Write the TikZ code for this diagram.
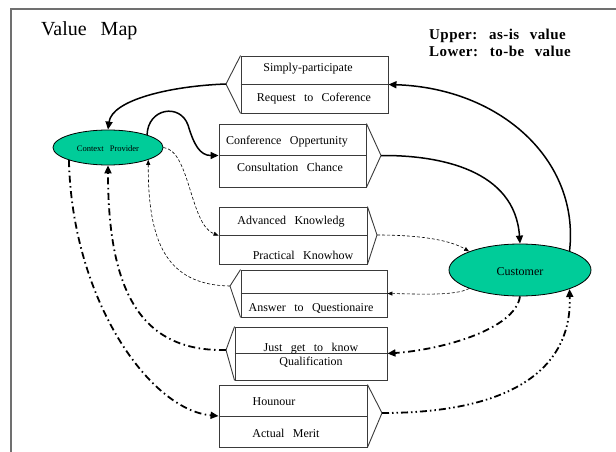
\documentclass[tikz,border=0pt]{standalone}
\usepackage{fontspec}
\setmainfont{Liberation Serif}
\usetikzlibrary{arrows.meta,shapes.geometric}

\definecolor{actorfill}{HTML}{00CC99}
\definecolor{boxline}{HTML}{3A3A3A}
\definecolor{framecol}{HTML}{707070}

\tikzset{
  every node/.style={execute at begin node={\spaceskip=0.7em plus 0.1em\relax}},
  actor/.style={ellipse, draw=black, line width=0.8pt, fill=actorfill, inner sep=0pt},
  valbox/.style={draw=boxline, line width=0.9pt, rectangle, inner sep=0pt},
  boxlabel/.style={font=\fontsize{12}{14}\selectfont, inner sep=0pt, anchor=base},
  notch/.style={draw=boxline, line width=0.9pt},
  arr/.style={-{Triangle[length=8pt,width=7pt]}},
  smallarr/.style={-{Triangle[length=5pt,width=4pt]}},
  flow/.style={line width=1.5pt, arr},
  hint/.style={line width=0.6pt, dash pattern=on 3pt off 2pt, smallarr},
  dashdot/.style={line width=1.8pt, dash pattern=on 7pt off 3.5pt on 1.5pt off 3.5pt, arr},
  dashdotdot/.style={line width=1.8pt, dash pattern=on 7pt off 3pt on 1.5pt off 3pt on 1.5pt off 3pt, arr},
}

\begin{document}
\begin{tikzpicture}[x=1pt, y=-1pt]
\useasboundingbox (0,0) rectangle (616,452);

% frame
\draw[framecol, line width=1.2pt] (11,452) -- (11,9) -- (616,9);

% headings
\node[font=\fontsize{20}{24}\selectfont, anchor=base west, inner sep=0pt] (title) at (41,36) {Value Map};
\node[font=\fontsize{15}{17}\selectfont\bfseries\addfontfeature{LetterSpace=3}, anchor=base west, inner sep=0pt] (legendA) at (429,40) {Upper: as-is value};
\node[font=\fontsize{15}{17}\selectfont\bfseries\addfontfeature{LetterSpace=3}, anchor=base west, inner sep=0pt] (legendB) at (429,57) {Lower: to-be value};

% actors
\node[actor, minimum width=110pt, minimum height=35pt] (cp) at (108,147.5) {};
\node[font=\fontsize{8.5}{10}\selectfont, anchor=base, inner sep=0pt] (cplabel) at (108,151) {Context Provider};
\node[actor, minimum width=142pt, minimum height=52pt] (cu) at (520,270) {};
\node[font=\fontsize{12}{14}\selectfont, anchor=base, inner sep=0pt] (culabel) at (520,275) {Customer};

% value boxes
\node[valbox, minimum width=147pt, minimum height=57pt] (b1) at (314.5,84.5) {};
\node[valbox, minimum width=147pt, minimum height=63pt] (b2) at (292.5,155.5) {};
\node[valbox, minimum width=148pt, minimum height=57pt] (b3) at (293,235.5) {};
\node[valbox, minimum width=146pt, minimum height=47pt] (b4) at (314,293.5) {};
\node[valbox, minimum width=152pt, minimum height=53pt] (b5) at (311,353.5) {};
\node[valbox, minimum width=148pt, minimum height=62pt] (b6) at (293,416) {};

% notch tips
\coordinate (b1tip) at (226,84);
\coordinate (b2tip) at (381,155.5);
\coordinate (b3tip) at (377,235);
\coordinate (b4tip) at (230,286);
\coordinate (b5tip) at (226,350);
\coordinate (b6tip) at (382,413);

% dividers and notches
\foreach \b in {b1,b2,b3,b4,b5,b6}
  \draw[notch] (\b.west) -- (\b.east);
\draw[notch] (b1.north west) -- (b1tip) -- (b1.south west);
\draw[notch] (b4.north west) -- (b4tip) -- (b4.south west);
\draw[notch] (b5.north west) -- (b5tip) -- (b5.south west);
\draw[notch] (b2.north east) -- (b2tip) -- (b2.south east);
\draw[notch] (b3.north east) -- (b3tip) -- (b3.south east);
\draw[notch] (b6.north east) -- (b6tip) -- (b6.south east);

% box texts
\node[boxlabel] (t1a) at (308,71) {Simply-participate};
\node[boxlabel] (t1b) at (314,102) {Request to Coference};
\node[boxlabel] (t2a) at (287,144) {Conference Oppertunity};
\node[boxlabel] (t2b) at (290,171) {Consultation Chance};
\node[boxlabel] (t3a) at (291,224) {Advanced Knowledg};
\node[boxlabel] (t3b) at (303,259) {Practical Knowhow};
\node[boxlabel] (t4b) at (311,311.5) {Answer to Questionaire};
\node[boxlabel] (t5a) at (311,351) {Just get to know};
\node[boxlabel] (t5b) at (311,365.5) {Qualification};
\node[boxlabel] (t6a) at (274,405) {Hounour};
\node[boxlabel] (t6b) at (286,437) {Actual Merit};

% solid flows
\draw[flow] (b1tip) .. controls (170,86) and (112,100) .. (cp.north);
\draw[flow] (cu.21) .. controls (580,160) and (500,88) .. (b1.east);
\draw[flow] (cp.18) .. controls (148,108) and (180,103) .. (188,125)
                    .. controls (194,145) and (200,155.5) .. (b2.west);
\draw[flow] (b2tip) .. controls (440,155) and (515,170) .. (cu.north);

% dashed flows
\draw[hint] (cp.east) .. controls (190,150) and (190,225) .. (b3.west);
\draw[hint] (b3tip) .. controls (420,235) and (450,240) .. (cu.160);
\draw[hint] (cu.200) .. controls (455,296) and (420,294) .. (b4.east);
\draw[hint] (b4tip) .. controls (165,285) and (148,240) .. (cp.-17);

% dash-dotted flows
\draw[dashdot] (cu.south) .. controls (515,330) and (440,350) .. (b5.east);
\draw[dashdot] (b5tip) .. controls (140,352) and (108,290) .. (cp.south);
\draw[dashdot] (cp.198) .. controls (72,300) and (150,410) .. (b6.west);
\draw[dashdotdot] (b6tip) .. controls (510,413) and (572,370) .. (cu.-21);
\end{tikzpicture}
\end{document}
